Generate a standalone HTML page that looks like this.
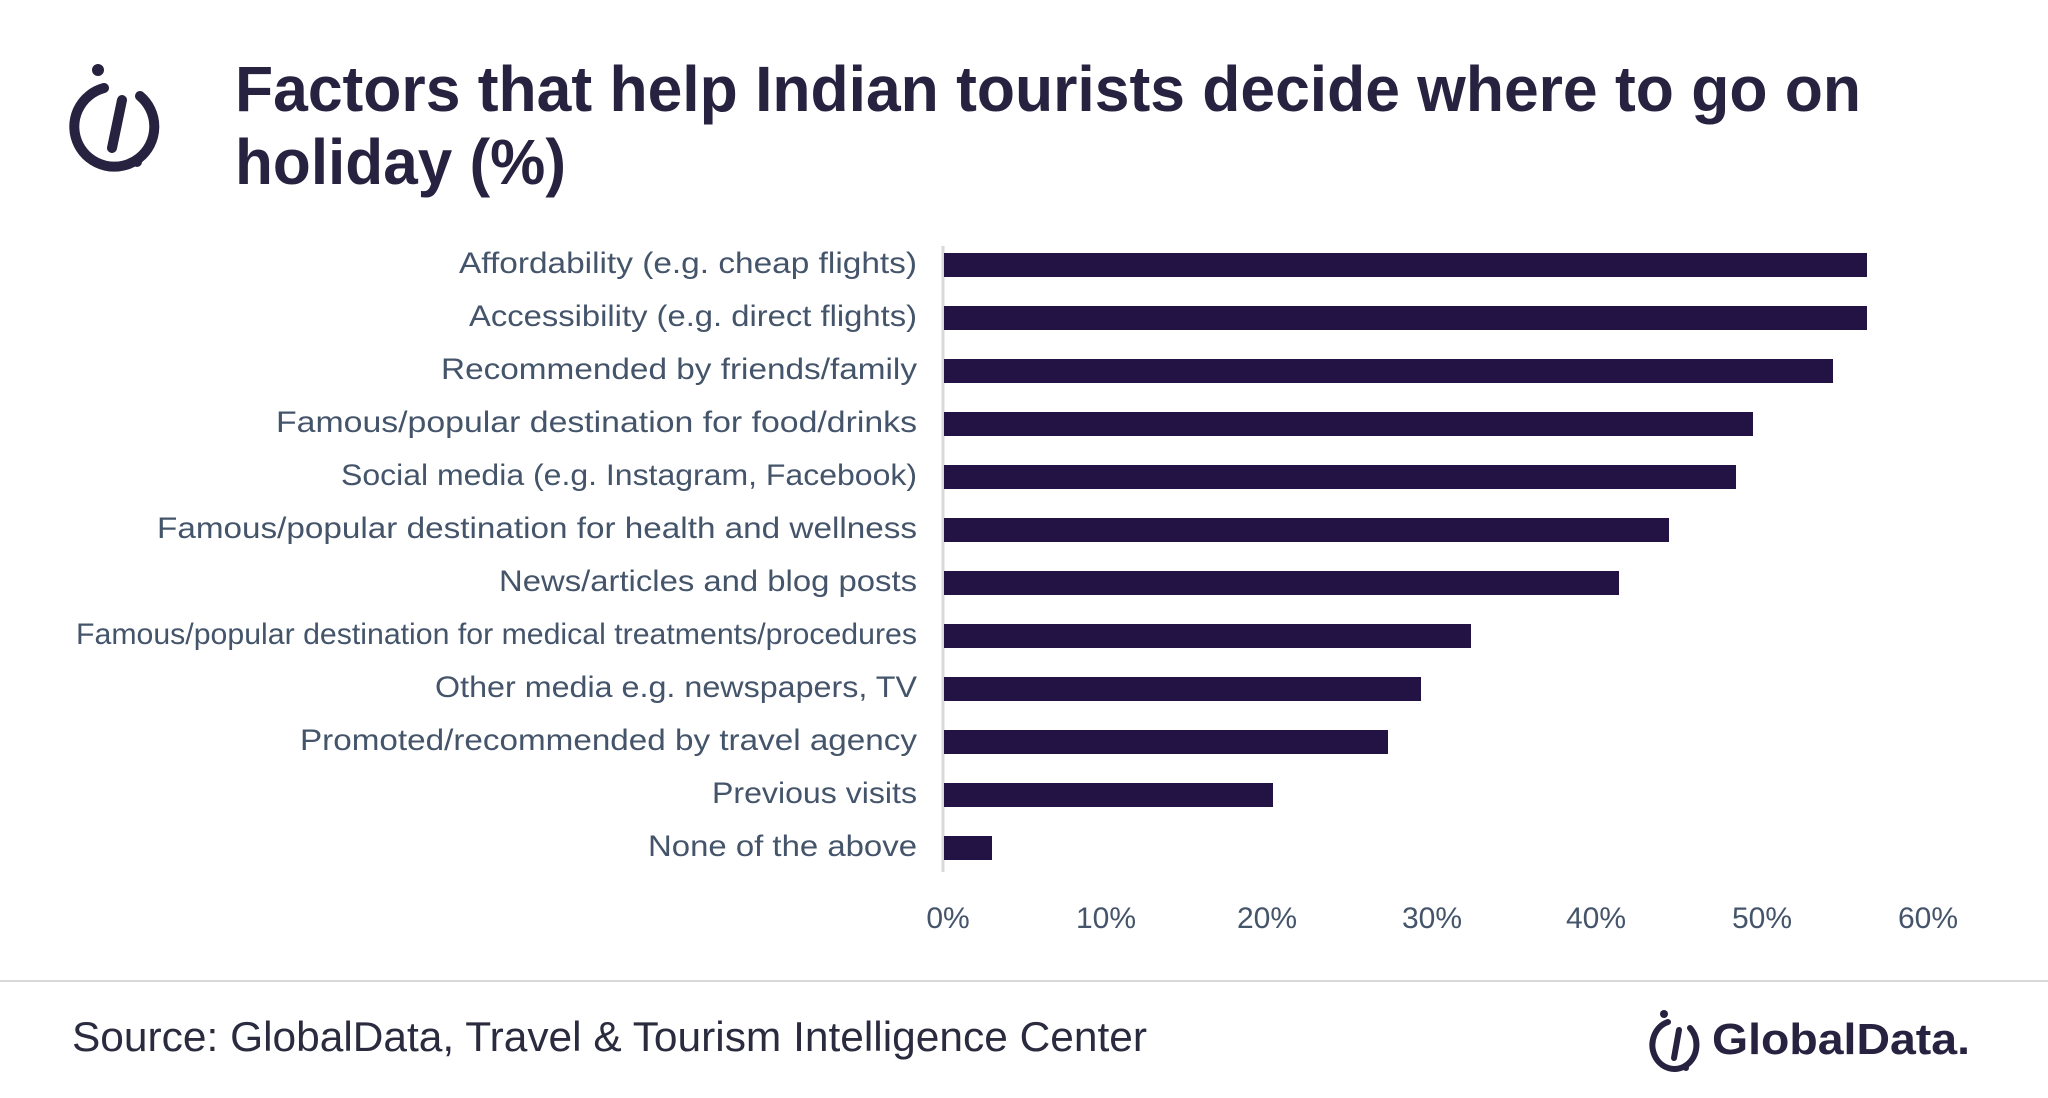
<!DOCTYPE html>
<html><head><meta charset="utf-8"><style>
html,body{margin:0;padding:0;background:#fff;}
svg{display:block;}
text{font-family:"Liberation Sans",sans-serif;}
</style></head><body>
<svg width="2048" height="1098" viewBox="0 0 2048 1098" xmlns="http://www.w3.org/2000/svg">
<rect width="2048" height="1098" fill="#fff"/>
<g fill="none" stroke="#26223f" stroke-width="10" stroke-linecap="round">
<path d="M104 88 A40 40 0 1 0 140 96"/>
<line x1="122" y1="100" x2="112" y2="148"/>
</g>
<circle cx="98" cy="70" r="6" fill="#26223f"/>
<circle cx="137" cy="162" r="5" fill="#26223f"/>
<g fill="#26223f" font-weight="bold" font-size="64">
<text x="235" y="111" textLength="1626" lengthAdjust="spacingAndGlyphs">Factors that help Indian tourists decide where to go on</text>
<text x="235" y="184" textLength="331" lengthAdjust="spacingAndGlyphs">holiday (%)</text>
</g>
<line x1="943" y1="246" x2="943" y2="872" stroke="#d9d9d9" stroke-width="3"/>
<g fill="#221344">
<rect x="944" y="253" width="923" height="24"/>
<rect x="944" y="306" width="923" height="24"/>
<rect x="944" y="359" width="889" height="24"/>
<rect x="944" y="412" width="809" height="24"/>
<rect x="944" y="465" width="792" height="24"/>
<rect x="944" y="518" width="725" height="24"/>
<rect x="944" y="571" width="675" height="24"/>
<rect x="944" y="624" width="527" height="24"/>
<rect x="944" y="677" width="477" height="24"/>
<rect x="944" y="730" width="444" height="24"/>
<rect x="944" y="783" width="329" height="24"/>
<rect x="944" y="836" width="48" height="24"/>
</g>
<g fill="#44546a" font-size="30" text-anchor="end">
<text x="917" y="273" textLength="458" lengthAdjust="spacingAndGlyphs">Affordability (e.g. cheap flights)</text>
<text x="917" y="326" textLength="448" lengthAdjust="spacingAndGlyphs">Accessibility (e.g. direct flights)</text>
<text x="917" y="379" textLength="476" lengthAdjust="spacingAndGlyphs">Recommended by friends/family</text>
<text x="917" y="432" textLength="641" lengthAdjust="spacingAndGlyphs">Famous/popular destination for food/drinks</text>
<text x="917" y="485" textLength="576" lengthAdjust="spacingAndGlyphs">Social media (e.g. Instagram, Facebook)</text>
<text x="917" y="538" textLength="760" lengthAdjust="spacingAndGlyphs">Famous/popular destination for health and wellness</text>
<text x="917" y="591" textLength="418" lengthAdjust="spacingAndGlyphs">News/articles and blog posts</text>
<text x="917" y="644" textLength="841" lengthAdjust="spacingAndGlyphs">Famous/popular destination for medical treatments/procedures</text>
<text x="917" y="697" textLength="482" lengthAdjust="spacingAndGlyphs">Other media e.g. newspapers, TV</text>
<text x="917" y="750" textLength="617" lengthAdjust="spacingAndGlyphs">Promoted/recommended by travel agency</text>
<text x="917" y="803" textLength="205" lengthAdjust="spacingAndGlyphs">Previous visits</text>
<text x="917" y="856" textLength="269" lengthAdjust="spacingAndGlyphs">None of the above</text>
</g>
<g fill="#44546a" font-size="30" text-anchor="middle">
<text x="948" y="928">0%</text>
<text x="1106" y="928">10%</text>
<text x="1267" y="928">20%</text>
<text x="1432" y="928">30%</text>
<text x="1596" y="928">40%</text>
<text x="1762" y="928">50%</text>
<text x="1928" y="928">60%</text>
</g>
<line x1="0" y1="981" x2="2048" y2="981" stroke="#d9d9d9" stroke-width="2"/>
<text x="72" y="1051" font-size="42" fill="#2b2b3f" textLength="1075" lengthAdjust="spacingAndGlyphs">Source: GlobalData, Travel &amp; Tourism Intelligence Center</text>
<g fill="none" stroke="#26223f" stroke-width="6" stroke-linecap="round">
<path d="M1668 1022 A22 24 0 1 0 1690 1028"/>
<line x1="1679" y1="1030" x2="1674" y2="1058"/>
</g>
<circle cx="1664" cy="1014" r="4" fill="#26223f"/>
<circle cx="1686" cy="1068" r="3" fill="#26223f"/>
<text x="1712" y="1054" font-size="44" font-weight="bold" fill="#26223f" textLength="258" lengthAdjust="spacingAndGlyphs">GlobalData.</text>
</svg>
</body></html>
